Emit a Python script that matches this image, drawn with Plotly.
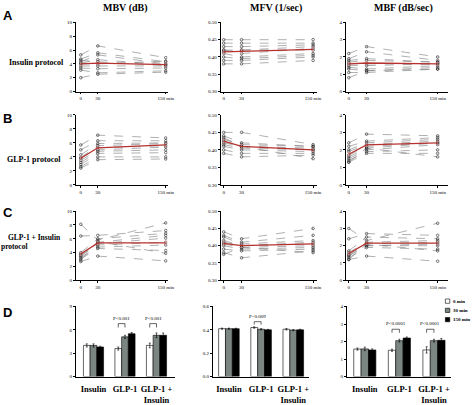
import plotly.graph_objects as go
from plotly.subplots import make_subplots

# ---------------- data ----------------
times = [0, 30, 150]
time_ticktext = ["0", "30", "150 min"]

# individual subjects, [0 min, 30 min, 150 min]
A_MBV = [[5.3, 6.6, 4.9], [4.7, 5.6, 4.3], [4.3, 5.3, 4.0], [4.1, 4.6, 3.9], [4.0, 4.0, 4.4],
         [3.7, 3.7, 3.7], [3.4, 3.3, 3.4], [3.1, 2.7, 3.0], [2.0, 2.5, 2.8], [4.5, 4.3, 3.8]]
A_MFV = [[0.45, 0.45, 0.45], [0.44, 0.44, 0.44], [0.43, 0.43, 0.435], [0.42, 0.42, 0.43], [0.42, 0.41, 0.425],
         [0.41, 0.40, 0.41], [0.40, 0.395, 0.405], [0.39, 0.39, 0.40], [0.38, 0.38, 0.39], [0.415, 0.42, 0.42]]
A_MBF = [[2.2, 2.6, 2.0], [1.9, 2.3, 1.8], [1.7, 1.8, 1.7], [1.6, 1.6, 1.6], [1.5, 1.5, 1.6],
         [1.4, 1.3, 1.5], [1.3, 1.2, 1.4], [1.1, 1.1, 1.3], [0.8, 1.2, 1.3], [1.8, 1.9, 1.7]]
B_MBV = [[5.7, 7.1, 6.7], [5.0, 6.3, 6.3], [4.3, 5.9, 6.0], [3.9, 5.6, 5.9], [3.8, 5.3, 5.6],
         [3.5, 5.0, 5.4], [3.2, 4.8, 5.0], [2.9, 4.5, 4.6], [2.6, 4.0, 4.0], [2.4, 3.6, 3.7]]
B_MFV = [[0.45, 0.45, 0.415], [0.44, 0.42, 0.41], [0.43, 0.415, 0.41], [0.425, 0.41, 0.405], [0.42, 0.41, 0.40],
         [0.415, 0.405, 0.40], [0.41, 0.40, 0.395], [0.40, 0.39, 0.39], [0.39, 0.38, 0.385], [0.435, 0.41, 0.375]]
B_MBF = [[2.4, 2.9, 2.8], [2.2, 2.5, 2.7], [2.0, 2.4, 2.6], [1.9, 2.3, 2.5], [1.7, 2.2, 2.4],
         [1.6, 2.1, 2.4], [1.5, 2.0, 2.3], [1.4, 1.9, 2.0], [1.3, 1.8, 1.8], [1.3, 2.1, 1.6]]
C_MBV = [[8.1, 5.8, 8.3], [6.4, 6.5, 7.2], [4.0, 6.0, 6.8], [3.8, 5.5, 6.5], [3.6, 5.3, 6.1],
         [3.5, 5.1, 5.5], [3.3, 4.8, 5.1], [3.1, 4.6, 4.3], [2.9, 5.6, 3.9], [2.7, 3.5, 2.8]]
C_MFV = [[0.44, 0.42, 0.45], [0.43, 0.41, 0.43], [0.425, 0.405, 0.415], [0.415, 0.40, 0.41], [0.41, 0.40, 0.405],
         [0.405, 0.395, 0.40], [0.40, 0.39, 0.395], [0.39, 0.385, 0.39], [0.38, 0.365, 0.385], [0.375, 0.395, 0.38]]
C_MBF = [[3.0, 2.3, 3.3], [2.4, 2.7, 2.6], [1.7, 2.5, 2.4], [1.6, 2.2, 2.3], [1.5, 2.1, 2.2],
         [1.45, 2.0, 2.1], [1.4, 2.0, 2.0], [1.3, 1.9, 1.8], [1.2, 2.1, 1.7], [1.2, 1.4, 1.1]]

# group means
A_MBV_mean = [4.0, 4.1, 3.9]
A_MFV_mean = [0.415, 0.416, 0.422]
A_MBF_mean = [1.6, 1.65, 1.6]
B_MBV_mean = [3.8, 5.3, 5.7]
B_MFV_mean = [0.425, 0.41, 0.40]
B_MBF_mean = [1.75, 2.28, 2.4]
C_MBV_mean = [3.8, 5.4, 5.4]
C_MFV_mean = [0.407, 0.40, 0.405]
C_MBF_mean = [1.55, 2.15, 2.15]

# panel D bars
protocols = ["<b>Insulin</b>", "<b>GLP-1</b>", "<b>GLP-1 +</b><br><b>Insulin</b>"]
bar_series = ["0 min", "30 min", "150 min"]
D_MBV = {"0 min": [4.0, 3.6, 4.0], "30 min": [4.0, 5.1, 5.3], "150 min": [3.8, 5.5, 5.3]}
D_MBV_err = {"0 min": [0.2, 0.2, 0.3], "30 min": [0.2, 0.2, 0.3], "150 min": [0.1, 0.15, 0.3]}
D_MFV = {"0 min": [0.41, 0.42, 0.405], "30 min": [0.41, 0.405, 0.398], "150 min": [0.41, 0.40, 0.40]}
D_MFV_err = {"0 min": [0.005, 0.006, 0.006], "30 min": [0.005, 0.005, 0.005], "150 min": [0.004, 0.004, 0.005]}
D_MBF = {"0 min": [1.57, 1.5, 1.52], "30 min": [1.58, 2.05, 2.05], "150 min": [1.52, 2.2, 2.07]}
D_MBF_err = {"0 min": [0.06, 0.06, 0.18], "30 min": [0.1, 0.08, 0.08], "150 min": [0.06, 0.06, 0.1]}
p_labels = ["P<0.001", "P<0.001", "P=0.009", "P<0.0001", "P<0.0001"]

# ---------------- figure ----------------
W, H = 476, 405
fig = make_subplots(rows=4, cols=3)

SERIF = "Liberation Serif"
SANS = "Liberation Sans"

def px_x(p):
    return p / W

def px_y(p):
    return 1 - p / H

col_dom_line = [(77, 170), (224, 322), (351, 455)]
col_rng_line = [(-8.7, 153), (-5, 157), (-5, 168)]
row_dom = [(21, 92), (116, 188), (215, 286), (313, 385)]
col_dom_bar = [(77, 178), (216, 314), (352, 458)]
col_rng_bar = [(-0.56, 2.6), (-0.5, 2.5), (-0.52, 2.5)]
yranges = [(0, 10), (0.30, 0.50), (0, 4)]
ytick_line = [dict(tickvals=[0, 2, 4, 6, 8, 10]),
              dict(tickvals=[0.30, 0.35, 0.40, 0.45, 0.50], ticktext=["0.30", "0.35", "0.40", "0.45", "0.50"]),
              dict(tickvals=[0, 1, 2, 3, 4])]
bar_yranges = [(0, 9), (0, 0.6), (0, 4)]
ytick_bar = [dict(tickvals=[0, 3, 6, 9]),
             dict(tickvals=[0, 0.2, 0.4, 0.6], ticktext=["0.0", "0.2", "0.4", "0.6"]),
             dict(tickvals=[0, 1, 2, 3, 4])]

line_panels = [[A_MBV, A_MFV, A_MBF], [B_MBV, B_MFV, B_MBF], [C_MBV, C_MFV, C_MBF]]
mean_panels = [[A_MBV_mean, A_MFV_mean, A_MBF_mean], [B_MBV_mean, B_MFV_mean, B_MBF_mean],
               [C_MBV_mean, C_MFV_mean, C_MBF_mean]]
mean_err_scale = [0.25, 0.005, 0.08]

tickfont = dict(family=SERIF, size=5, color="black")
axis_common = dict(showgrid=False, zeroline=False, showline=True, linecolor="black", linewidth=0.8,
                   ticks="outside", ticklen=2, tickwidth=0.6, tickcolor="black", tickfont=tickfont)

for r in range(3):
    for c in range(3):
        subjects = line_panels[r][c]
        for s in subjects:
            fig.add_trace(go.Scatter(
                x=times, y=s, mode="lines+markers",
                line=dict(color="#7a7a7a", width=0.6, dash="dash"),
                marker=dict(symbol="circle-open", size=2.6, color="#222222", line=dict(width=0.6)),
                showlegend=False, hoverinfo="skip"), row=r + 1, col=c + 1)
        fig.add_trace(go.Scatter(
            x=times, y=mean_panels[r][c], mode="lines",
            line=dict(color="#b5322e", width=1.3),
            error_y=dict(type="constant", value=mean_err_scale[c], color="#e8a0a0", thickness=0.6, width=1.5),
            showlegend=False), row=r + 1, col=c + 1)

bar_data = [D_MBV, D_MFV, D_MBF]
bar_err = [D_MBV_err, D_MFV_err, D_MBF_err]
bar_colors = {"0 min": "white", "30 min": "#7b8683", "150 min": "black"}
for c in range(3):
    for s in bar_series:
        fig.add_trace(go.Bar(
            x=protocols, y=bar_data[c][s], name=s,
            marker=dict(color=bar_colors[s], line=dict(color="black", width=0.6)),
            error_y=dict(type="data", array=bar_err[c][s], color="black", thickness=0.6, width=1),
            showlegend=False), row=4, col=c + 1)

fig.update_layout(barmode="group", bargap=0.36, bargroupgap=0)

# axes layout
for r in range(4):
    for c in range(3):
        n = r * 3 + c + 1
        xa = "xaxis" if n == 1 else f"xaxis{n}"
        ya = "yaxis" if n == 1 else f"yaxis{n}"
        y0, y1 = row_dom[r]
        if r < 3:
            x0, x1 = col_dom_line[c]
            fig.layout[xa].update(domain=[px_x(x0), px_x(x1)], range=list(col_rng_line[c]),
                                  tickvals=times, ticktext=time_ticktext, **axis_common)
            fig.layout[ya].update(domain=[px_y(y1), px_y(y0)], range=list(yranges[c]),
                                  **ytick_line[c], **axis_common)
        else:
            x0, x1 = col_dom_bar[c]
            xc = dict(axis_common)
            xc["ticks"] = ""
            xc["tickfont"] = dict(family=SERIF, size=8.5, color="black")
            fig.layout[xa].update(domain=[px_x(x0), px_x(x1)], range=list(col_rng_bar[c]),
                                  ticklabelstandoff=4, **xc)
            fig.layout[ya].update(domain=[px_y(y1), px_y(y0)], range=list(bar_yranges[c]),
                                  **ytick_bar[c], **axis_common)

annotations = []
def ann(text, x, y, size, family=SERIF, bold=True, xanchor="center", yanchor="middle"):
    annotations.append(dict(text=f"<b>{text}</b>" if bold else text, x=px_x(x), y=px_y(y),
                            xref="paper", yref="paper", showarrow=False,
                            font=dict(family=family, size=size, color="black"),
                            xanchor=xanchor, yanchor=yanchor))

ann("MBV (dB)", 127, 6, 10)
ann("MFV (1/sec)", 280, 6, 10)
ann("MBF (dB/sec)", 410, 6, 10)
ann("A", 1, 14, 13, family=SANS, xanchor="left")
ann("B", 1, 120, 13, family=SANS, xanchor="left")
ann("C", 1, 216, 13, family=SANS, xanchor="left")
ann("D", 1, 319, 13, family=SANS, xanchor="left")
ann("Insulin protocol", 37, 62, 8)
ann("GLP-1 protocol", 35, 162, 8)
ann("GLP-1 + Insulin", 64, 242, 7.5, xanchor="right")
ann("protocol", -1, 251, 7.5, xanchor="left")

shapes = []
# significance brackets and labels (bar group geometry)
w = (1 - 0.36) / 3
br_list = [(10, 1, 6.3, 6.8, p_labels[0]), (10, 2, 6.3, 6.8, p_labels[1]),
           (11, 1, 0.445, 0.47, p_labels[2]),
           (12, 1, 2.5, 2.7, p_labels[3]), (12, 2, 2.5, 2.7, p_labels[4])]
for n, cat, lo, hi, lab in br_list:
    xr, yr = f"x{n}", f"y{n}"
    xa_, xb_ = cat - w, cat
    shapes.append(dict(type="path", xref=xr, yref=yr,
                       path=f"M {xa_},{lo} L {xa_},{hi} L {xb_},{hi} L {xb_},{lo}",
                       line=dict(color="black", width=0.6)))
    annotations.append(dict(text=lab, x=cat - w / 2, y=hi, xref=xr, yref=yr, showarrow=False,
                            yanchor="bottom", yshift=1, font=dict(family=SERIF, size=5, color="black")))

# legend
leg_y = [307.5, 317, 326.5]
for s, yy in zip(bar_series, leg_y):
    shapes.append(dict(type="rect", xref="paper", yref="paper",
                       x0=px_x(452), x1=px_x(456.5), y0=px_y(yy + 2.2), y1=px_y(yy - 2.2),
                       fillcolor=bar_colors[s], line=dict(color="black", width=0.6)))
    ann(s, 457.5, yy, 5, xanchor="left")

fig.update_layout(width=W, height=H, margin=dict(l=0, r=0, t=0, b=0),
                  paper_bgcolor="white", plot_bgcolor="white",
                  annotations=annotations, shapes=shapes, showlegend=False)

fig.write_html("out.html", config={"displayModeBar": False},
               post_script="document.body.style.margin='0';document.body.style.overflow='hidden';")
